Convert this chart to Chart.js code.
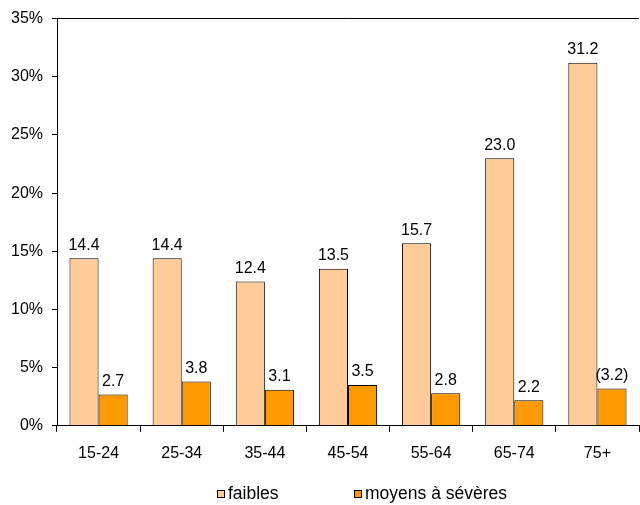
<!DOCTYPE html>
<html>
<head>
<meta charset="utf-8">
<script src="https://cdn.jsdelivr.net/npm/chart.js@4.4.1/dist/chart.umd.min.js"></script>
<style>
  html, body { margin: 0; padding: 0; background: #fff; }
  #wrap { width: 640px; height: 505px; }
</style>
</head>
<body>
<div id="wrap"><canvas id="graphique"></canvas></div>
<script>
// données
const categories = ['15-24', '25-34', '35-44', '45-54', '55-64', '65-74', '75+'];
const faibles = [14.4, 14.4, 12.4, 13.5, 15.7, 23.0, 31.2];
const moyens = [2.7, 3.8, 3.1, 3.5, 2.8, 2.2, 3.2];
const etiquettesFaibles = ['14.4', '14.4', '12.4', '13.5', '15.7', '23.0', '31.2'];
const etiquettesMoyens = ['2.7', '3.8', '3.1', '3.5', '2.8', '2.2', '(3.2)'];
const nomsSeries = ['faibles', 'moyens à sévères'];

const police = "'Liberation Sans', Arial, sans-serif";

// étiquettes au-dessus des barres
const etiquettesPlugin = {
    id: 'etiquettes',
    afterDatasetsDraw(chart) {
        const ctx = chart.ctx;
        const textes = [etiquettesFaibles, etiquettesMoyens];
        ctx.save();
        ctx.font = '16px ' + police;
        ctx.fillStyle = '#000';
        ctx.textAlign = 'center';
        ctx.textBaseline = 'bottom';
        chart.data.datasets.forEach((ds, i) => {
            const meta = chart.getDatasetMeta(i);
            meta.data.forEach((bar, j) => {
                ctx.fillText(textes[i][j], bar.x, bar.y - 5);
            });
        });
        ctx.restore();
    }
};

// légende dessinée à la main (espacement large comme l'original)
const legendePlugin = {
    id: 'legende',
    afterDraw(chart) {
        const ctx = chart.ctx;
        const positions = [217, 354];
        const y = 494;
        ctx.save();
        ctx.font = '17.5px ' + police;
        ctx.textBaseline = 'middle';
        ctx.textAlign = 'left';
        chart.data.datasets.forEach((ds, i) => {
            const x = positions[i];
            ctx.fillStyle = ds.backgroundColor;
            ctx.fillRect(x + 0.5, y - 3.5, 7, 7);
            ctx.strokeStyle = '#000';
            ctx.lineWidth = 1;
            ctx.strokeRect(x + 0.5, y - 3.5, 7, 7);
            ctx.fillStyle = '#000';
            ctx.fillText(ds.label, x + 11, y);
        });
        ctx.restore();
    }
};

new Chart(document.getElementById('graphique'), {
    type: 'bar',
    data: {
        labels: categories,
        datasets: [{
            label: nomsSeries[0],
            data: faibles,
            backgroundColor: '#FFCC99',
            borderColor: '#000',
            borderWidth: 1,
            borderSkipped: 'bottom',
            categoryPercentage: 0.7,
            barPercentage: 1.0
        }, {
            label: nomsSeries[1],
            data: moyens,
            backgroundColor: '#FF9900',
            borderColor: '#000',
            borderWidth: 1,
            borderSkipped: 'bottom',
            categoryPercentage: 0.7,
            barPercentage: 1.0
        }]
    },
    options: {
        responsive: true,
        maintainAspectRatio: false,
        animation: false,
        layout: { padding: { top: 17, right: 1, bottom: 30, left: 0 } },
        plugins: {
            legend: { display: false },
            tooltip: { enabled: false }
        },
        scales: {
            x: {
                grid: {
                    offset: true,
                    drawOnChartArea: false,
                    tickLength: 6,
                    tickColor: '#000'
                },
                border: { color: '#000', width: 1 },
                ticks: {
                    color: '#000',
                    padding: 12,
                    font: { family: police, size: 16 }
                }
            },
            y: {
                min: 0,
                max: 35,
                afterFit(scale) { scale.width = 57; },
                grid: {
                    color: ctx => ctx.tick && ctx.tick.value === 35 ? '#000' : 'rgba(0,0,0,0)',
                    tickColor: '#000',
                    tickLength: 5
                },
                border: { color: '#000', width: 1 },
                ticks: {
                    stepSize: 5,
                    color: '#000',
                    padding: 9,
                    font: { family: police, size: 16 },
                    callback: v => v + '%'
                }
            }
        }
    },
    plugins: [etiquettesPlugin, legendePlugin]
});
</script>
</body>
</html>
